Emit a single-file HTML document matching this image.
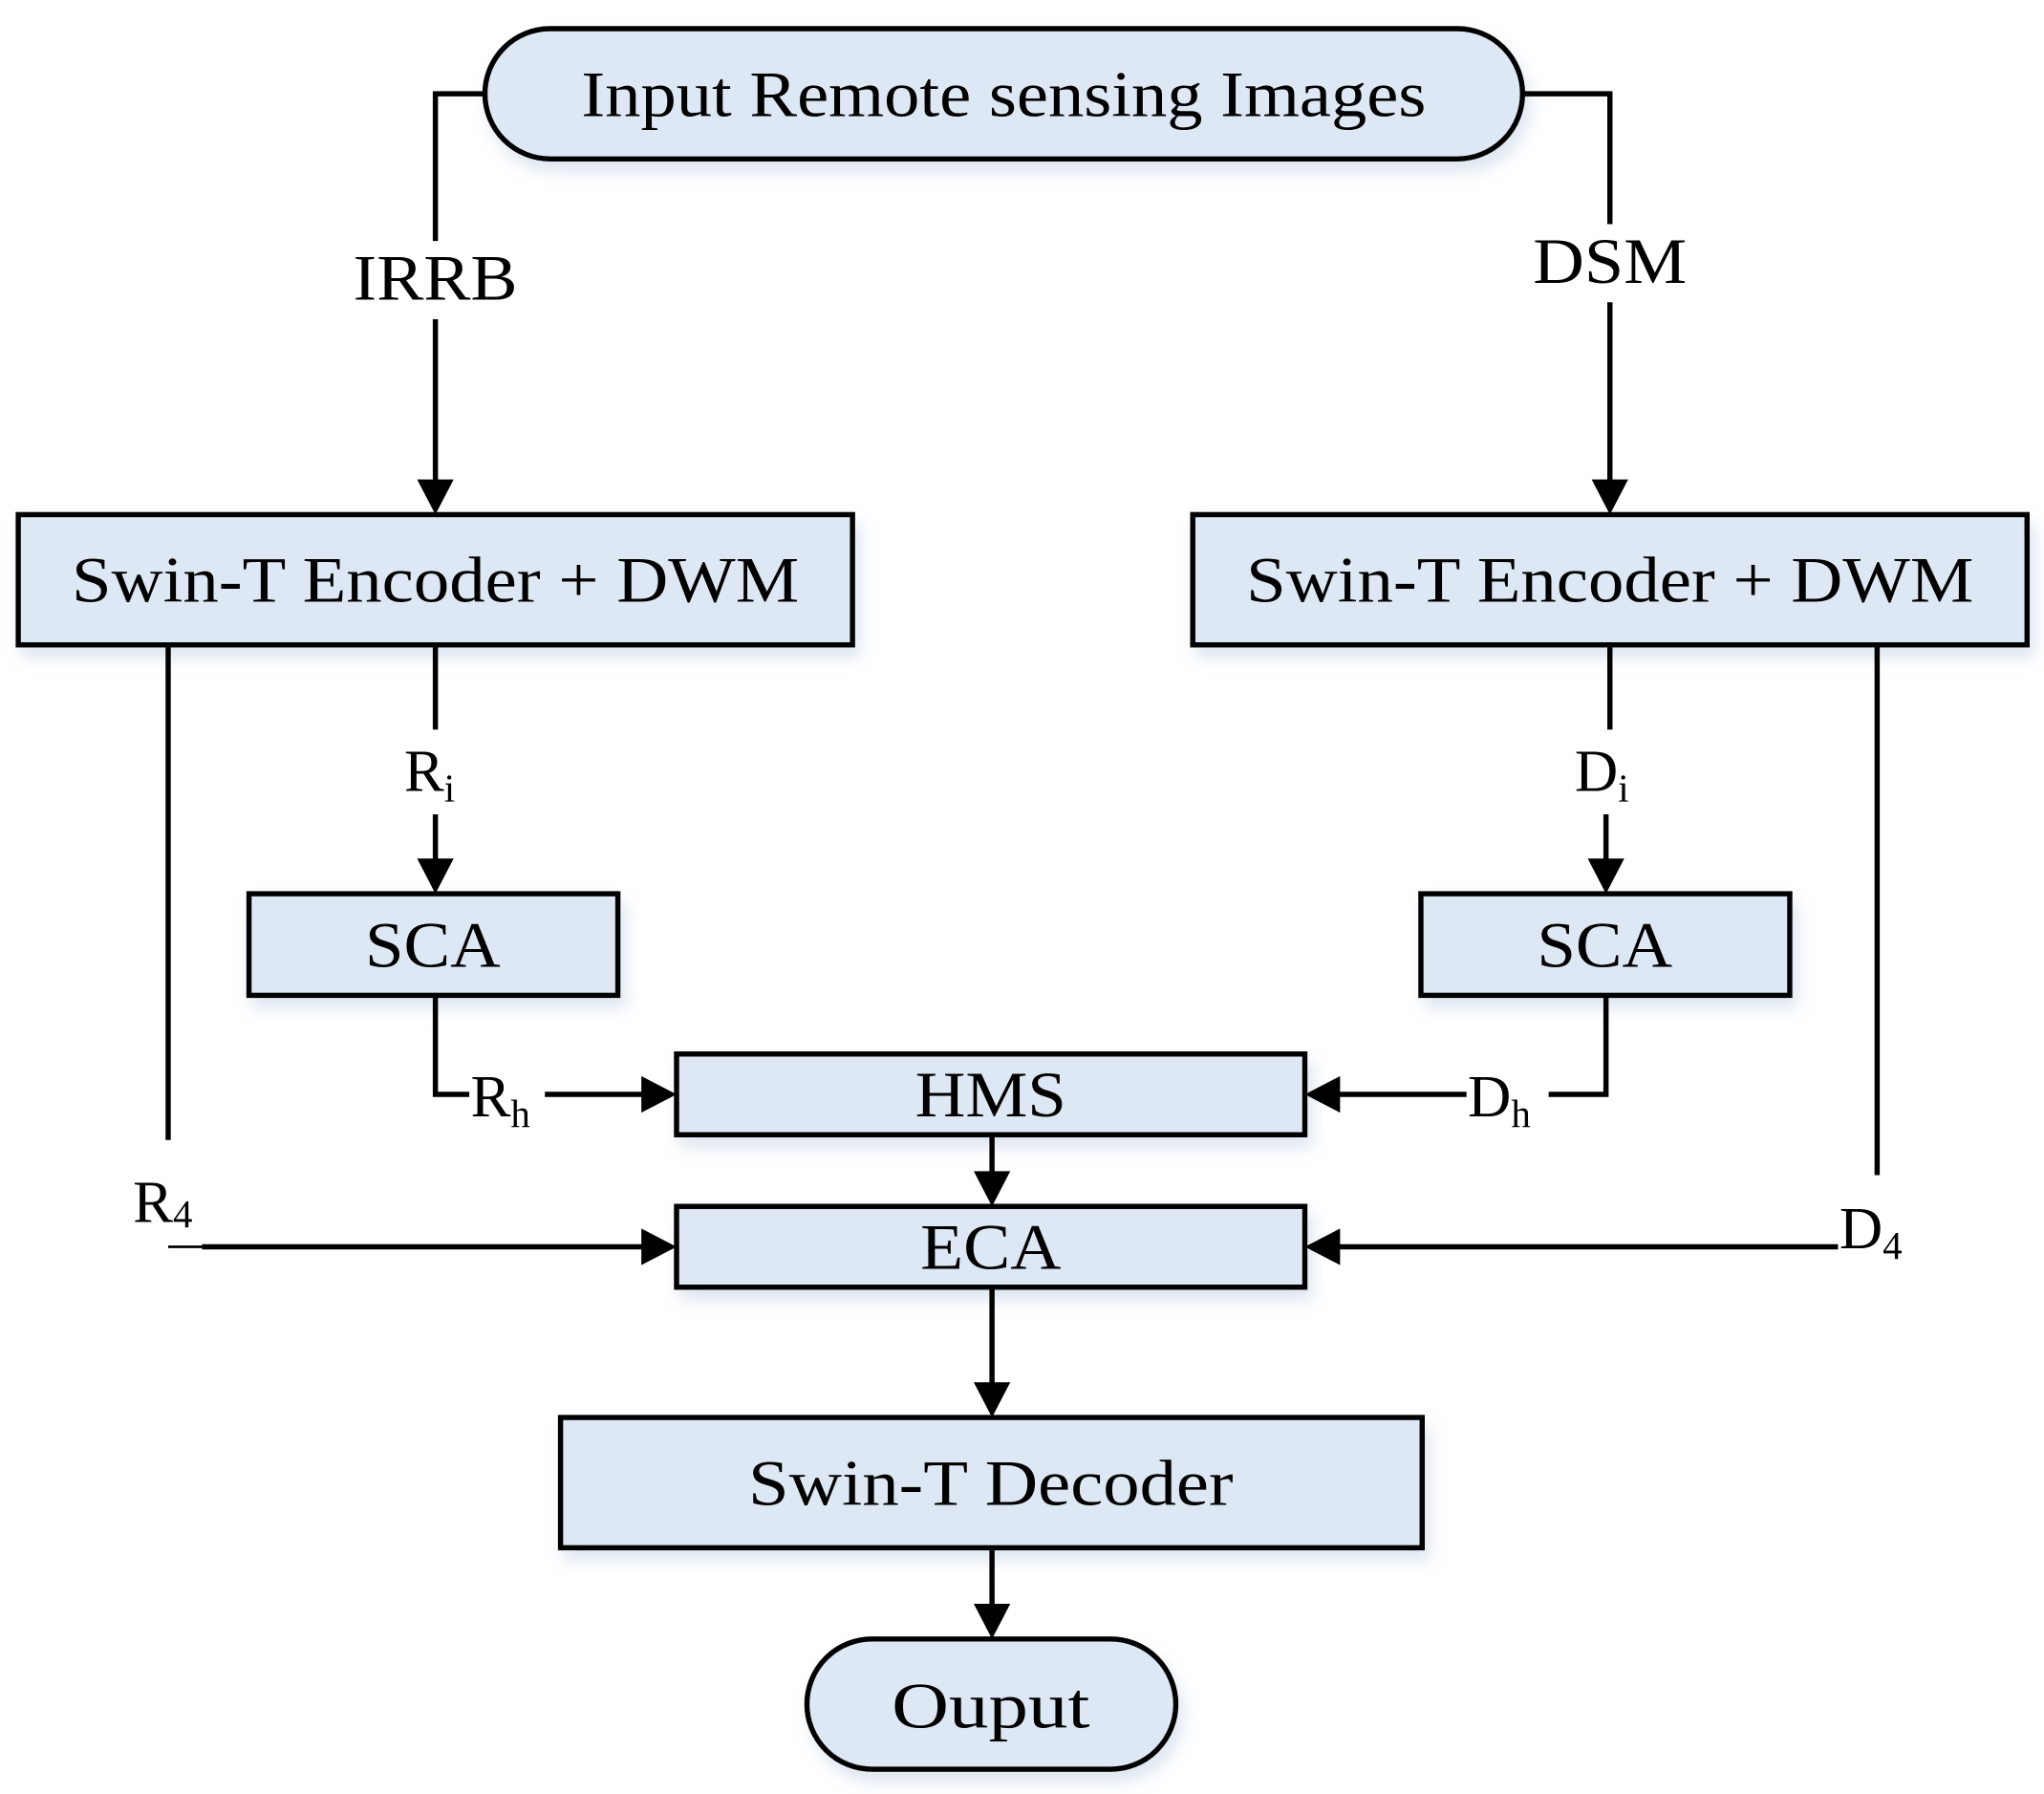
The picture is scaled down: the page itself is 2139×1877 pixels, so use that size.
<!DOCTYPE html>
<html><head><meta charset="utf-8"><style>
html,body{margin:0;padding:0;background:#fff;}
svg{display:block;}
text{font-family:"Liberation Serif",serif;fill:#000;}
</style></head><body>
<svg width="2139" height="1877" viewBox="0 0 1568 1377" preserveAspectRatio="none" xmlns="http://www.w3.org/2000/svg">
<defs>
<filter id="sh" x="-10%" y="-20%" width="120%" height="160%"><feDropShadow dx="4" dy="8" stdDeviation="6" flood-color="#9fb6d4" flood-opacity="0.35"/></filter>
<marker id="ar" markerWidth="10" markerHeight="10" refX="9" refY="5" orient="auto" markerUnits="userSpaceOnUse" viewBox="0 0 10 10"><path d="M0,0 L10,5 L0,10 z" fill="#000"/></marker>
</defs>
<g fill="#dde8f4" stroke="#000" stroke-width="4" filter="url(#sh)">
<rect x="372" y="22" width="796" height="100" rx="50"/>
<rect x="14" y="395" width="640" height="100"/>
<rect x="915" y="395" width="640" height="100"/>
<rect x="191" y="686" width="283" height="78"/>
<rect x="1090" y="686" width="283" height="78"/>
<rect x="519" y="809" width="482" height="62"/>
<rect x="519" y="926" width="482" height="62"/>
<rect x="430" y="1088" width="661" height="100"/>
<rect x="619" y="1258" width="283" height="100" rx="50"/>
</g>
<g stroke="#000" stroke-width="4" fill="none">
<path d="M372,72 H334 V185"/>
<path d="M334,245 V370"/>
<path d="M1168,72 H1235 V172"/>
<path d="M1235,232 V370"/>
<path d="M334,495 V560"/>
<path d="M334,625 V662"/>
<path d="M1235,495 V560"/>
<path d="M1232,625 V662"/>
<path d="M334,764 V840 H360"/>
<path d="M418,840 H497"/>
<path d="M1232,764 V840 H1188"/>
<path d="M1125,840 H1023"/>
<path d="M761,871 V904"/>
<path d="M129,495 V875"/>
<path d="M155,957 H497"/>
<path d="M1440,495 V902"/>
<path d="M1410,957 H1023"/>
<path d="M761,988 V1066"/>
<path d="M761,1188 V1236"/>
</g>
<path d="M129,957 H155" stroke="#000" stroke-width="2"/>
<g fill="#000">
<path d="M320,368 L348,368 L334,395 z"/>
<path d="M1221,368 L1249,368 L1235,395 z"/>
<path d="M320,659 L348,659 L334,686 z"/>
<path d="M1218,659 L1246,659 L1232,686 z"/>
<path d="M492,826 L519,840 L492,854 z"/>
<path d="M1028,826 L1001,840 L1028,854 z"/>
<path d="M747,899 L775,899 L761,926 z"/>
<path d="M492,943 L519,957 L492,971 z"/>
<path d="M1028,943 L1001,957 L1028,971 z"/>
<path d="M747,1061 L775,1061 L761,1088 z"/>
<path d="M747,1231 L775,1231 L761,1258 z"/>
</g>
<g font-size="50" text-anchor="middle">
<text x="770" y="89" textLength="648" lengthAdjust="spacingAndGlyphs">Input Remote sensing Images</text>
<text x="334" y="230" textLength="126" lengthAdjust="spacingAndGlyphs">IRRB</text>
<text x="1235" y="217" textLength="118" lengthAdjust="spacingAndGlyphs">DSM</text>
<text x="334" y="462" textLength="558" lengthAdjust="spacingAndGlyphs">Swin-T Encoder + DWM</text>
<text x="1235" y="462" textLength="558" lengthAdjust="spacingAndGlyphs">Swin-T Encoder + DWM</text>
<text x="332" y="742" textLength="104" lengthAdjust="spacingAndGlyphs">SCA</text>
<text x="1231" y="742" textLength="104" lengthAdjust="spacingAndGlyphs">SCA</text>
<text x="760" y="857" textLength="116" lengthAdjust="spacingAndGlyphs">HMS</text>
<text x="760" y="974" textLength="108" lengthAdjust="spacingAndGlyphs">ECA</text>
<text x="760" y="1155" textLength="372" lengthAdjust="spacingAndGlyphs">Swin-T Decoder</text>
<text x="760" y="1326" textLength="152" lengthAdjust="spacingAndGlyphs">Ouput</text>
</g>
<g font-size="46">
<text x="310" y="607">R<tspan font-size="30" dy="8">i</tspan></text>
<text x="1208" y="607">D<tspan font-size="30" dy="8">i</tspan></text>
<text x="361" y="857">R<tspan font-size="30" dy="8">h</tspan></text>
<text x="1126" y="857">D<tspan font-size="30" dy="8">h</tspan></text>
<text x="102" y="938">R<tspan font-size="30" dy="4">4</tspan></text>
<text x="1411" y="958">D<tspan font-size="30" dy="8">4</tspan></text>
</g>
</svg>
</body></html>
